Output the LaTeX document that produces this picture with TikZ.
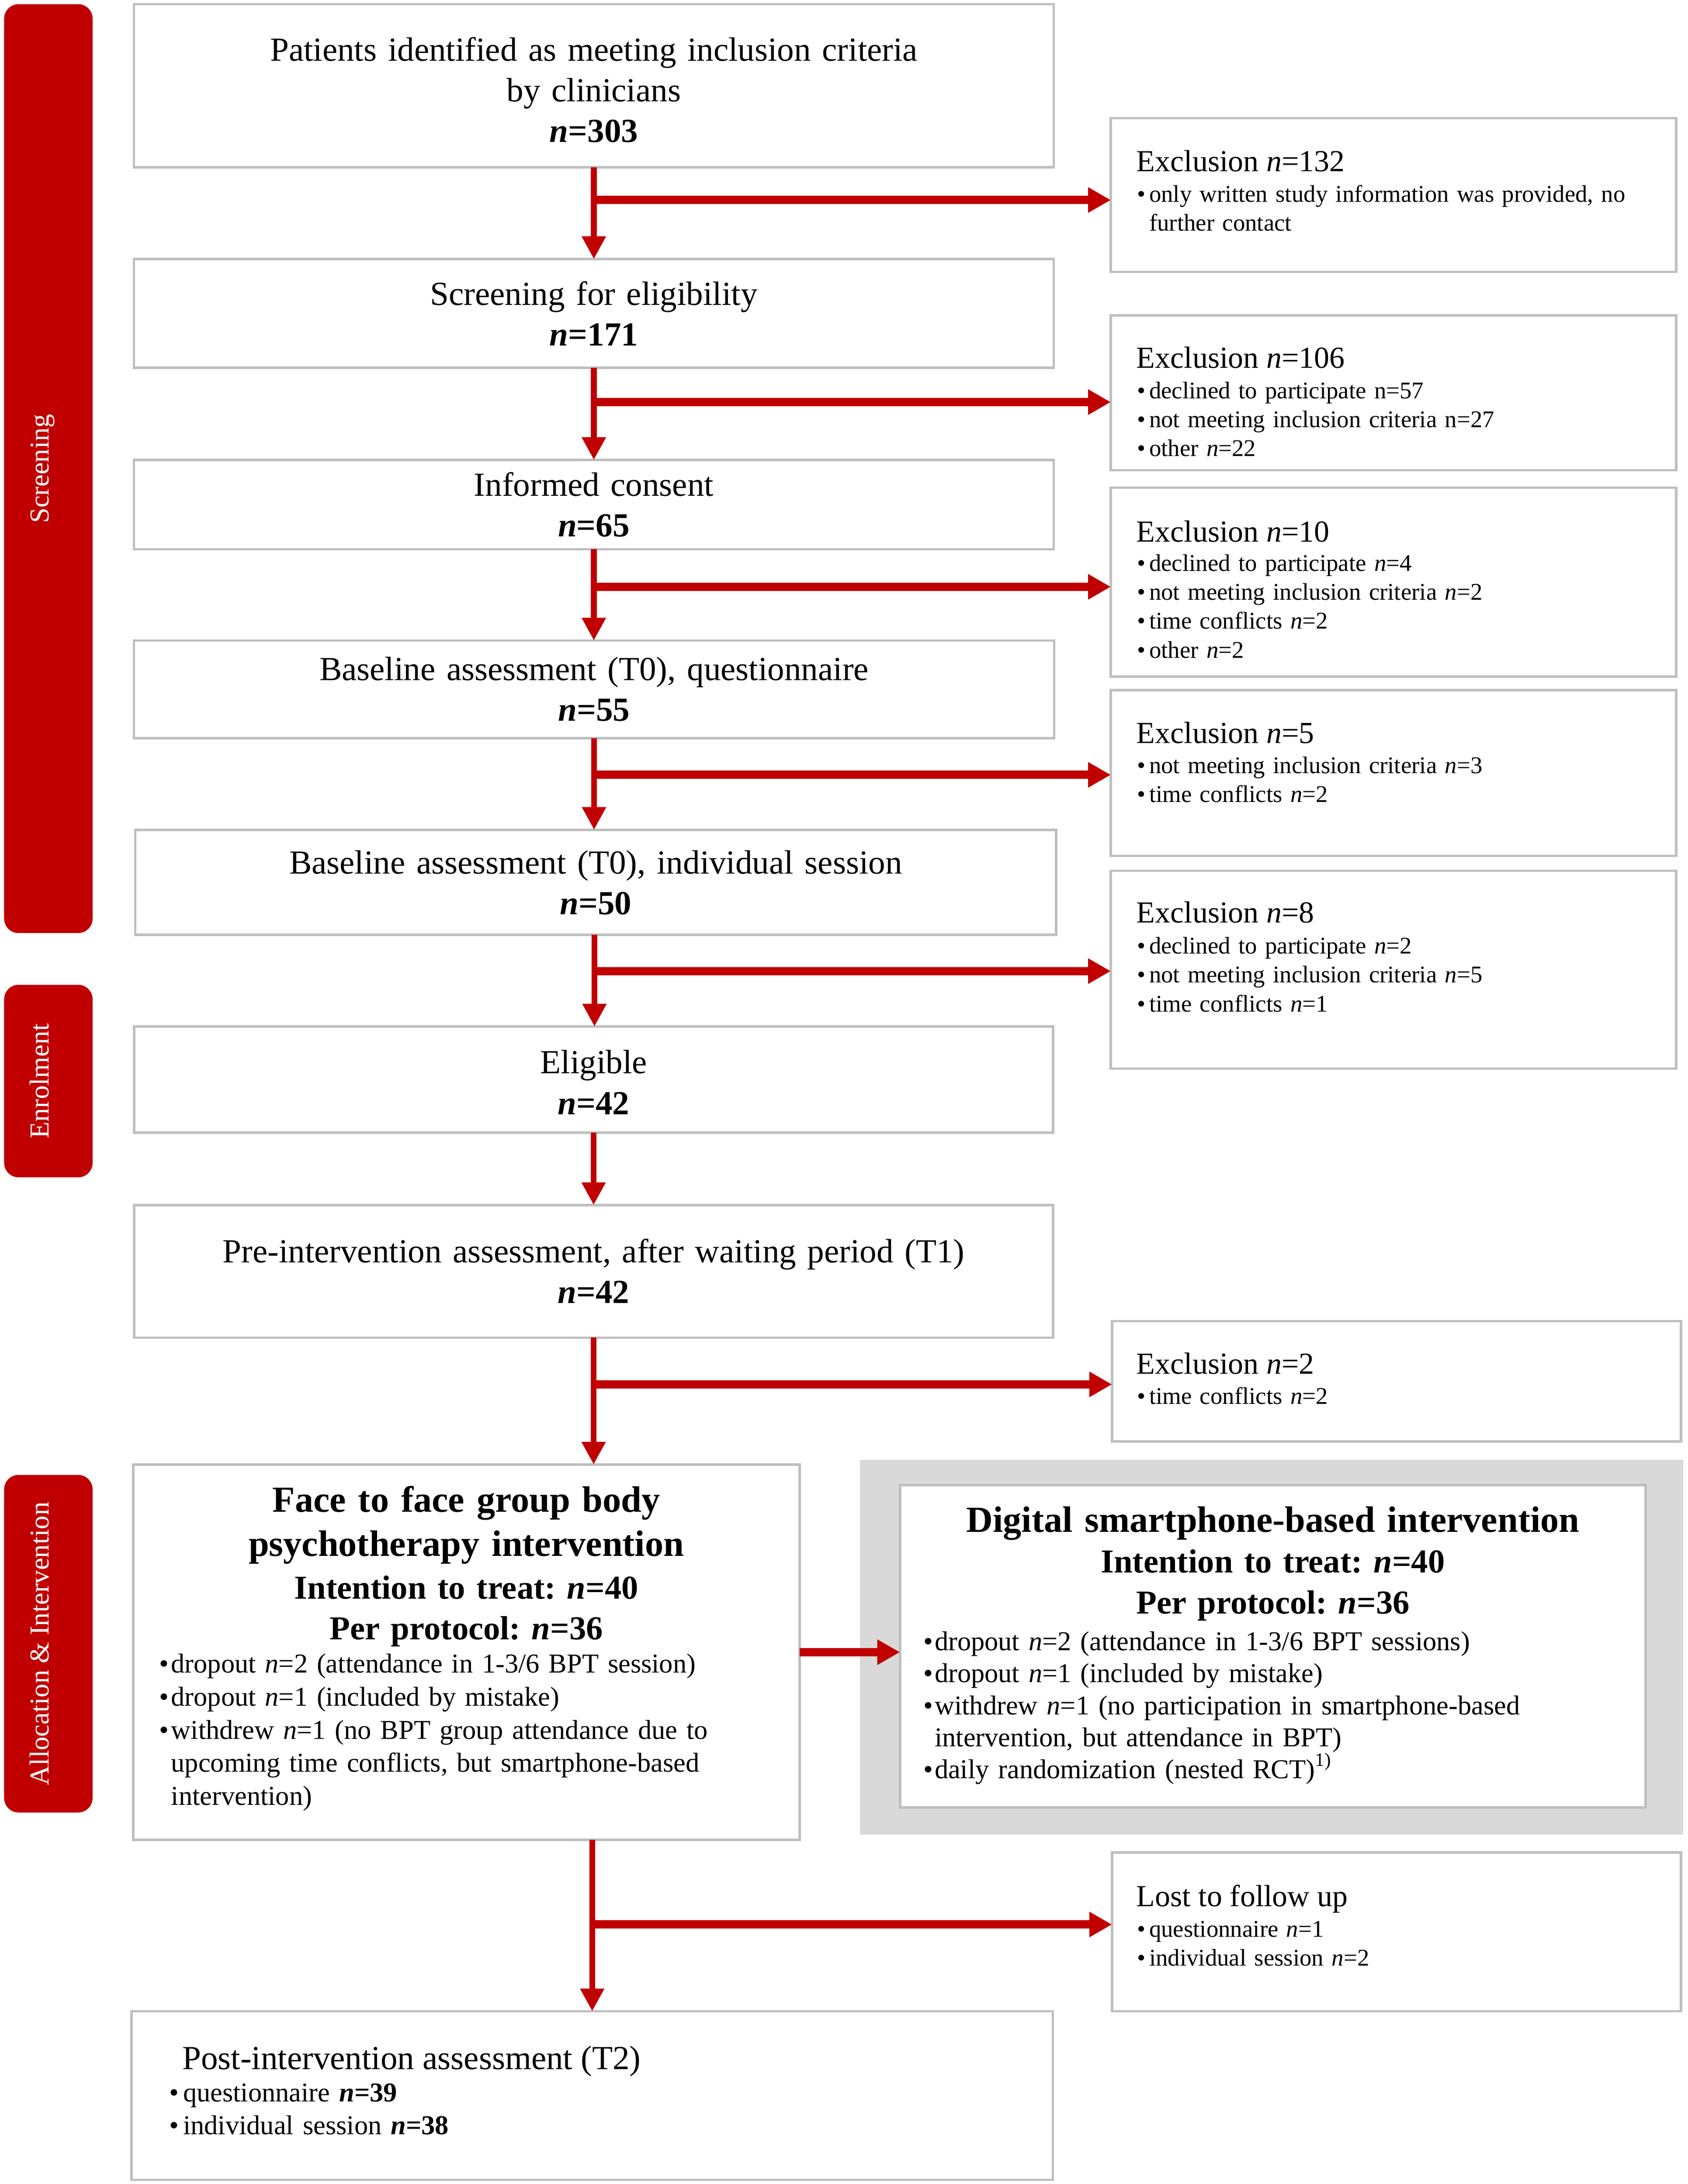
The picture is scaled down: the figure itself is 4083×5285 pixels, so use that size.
\documentclass[tikz,border=0pt]{standalone}
\usepackage{fontspec}
\setmainfont{Liberation Serif}
\usetikzlibrary{arrows.meta}
\definecolor{fcred}{HTML}{C00000}
\definecolor{boxgray}{HTML}{BFBFBF}
\definecolor{greyfill}{HTML}{D9D9D9}
\newlength{\bulind}
\setlength{\bulind}{2.9pt}
\newcommand{\bulfirst}{\noindent\makebox[\bulind][l]{\textbullet}}
\newcommand{\bul}{\par\bulfirst}
\newcommand{\cont}{\newline\hspace*{\bulind}}
\newcommand{\fsz}[2]{\fontsize{#1}{#2}\selectfont\frenchspacing}
\begin{document}
\frenchspacing
\begin{tikzpicture}[x=0.1pt,y=-0.1pt,
  box/.style={draw=boxgray, line width=0.6pt, fill=white, inner sep=0pt, outer sep=0pt, rectangle},
  side/.style={fill=fcred, rounded corners=3.5pt, inner sep=0pt, outer sep=0pt, minimum width=21.4pt},
  sidetext/.style={text=white, rotate=90, anchor=base, font=\fsz{6.6pt}{8pt}, inner sep=0pt},
  maintext/.style={anchor=base, align=center, inner sep=0pt, text width=222pt, font=\fsz{8.15pt}{9.85pt}},
  headtext/.style={anchor=base, align=center, inner sep=0pt, font=\bfseries\fsz{8.9pt}{10.6pt}},
  subtext/.style={anchor=base, align=center, inner sep=0pt, font=\bfseries\fsz{8.1pt}{9.8pt}},
  extitle/.style={anchor=base west, inner sep=0pt, font=\fsz{7.4pt}{8.8pt}},
  exbul/.style={anchor=base west, inner sep=0pt, align=left, text width=128pt, font=\fsz{5.8pt}{7.0pt}},
  ivbul/.style={anchor=base west, inner sep=0pt, align=left, font=\fsz{6.6pt}{8.0pt}},
  varrow/.style={draw=fcred, line width=1.4pt, -{Triangle[width=5.5pt,length=5.5pt]}},
  harrow/.style={draw=fcred, line width=2.0pt, -{Triangle[width=5.8pt,length=5.5pt]}}
]
\fill[white] (0,0) rectangle (4083,5285);
\useasboundingbox (0,0) rectangle (4083,5285);

% side bars
\node[side, minimum height=224.8pt] (S1) at (117,1134) {};
\node[sidetext] (S1t) at (118,1134) {Screening};
\node[side, minimum height=46.6pt] (S2) at (117,2616) {};
\node[sidetext] (S2t) at (118,2616) {Enrolment};
\node[side, minimum height=81.7pt] (S3) at (117,3977.5) {};
\node[sidetext] (S3t) at (118,3977.5) {Allocation \& Intervention};

% main column
\node[box, minimum width=222.5pt, minimum height=39.5pt] (A) at (1436.5,207.5) {};
\node[maintext] (At) at (1436.5,147) {Patients identified as meeting inclusion criteria\\by clinicians\\\textbf{\textit{n}=303}};
\node[box, minimum width=222.5pt, minimum height=26.3pt] (B) at (1436.5,758.5) {};
\node[maintext] (Bt) at (1436.5,738) {Screening for eligibility\\\textbf{\textit{n}=171}};
\node[box, minimum width=222.5pt, minimum height=21.6pt] (C) at (1436.5,1221) {};
\node[maintext] (Ct) at (1436.5,1200) {Informed consent\\\textbf{\textit{n}=65}};
\node[box, minimum width=222.6pt, minimum height=23.6pt] (D) at (1437,1668) {};
\node[maintext] (Dt) at (1437,1646) {Baseline assessment (T0), questionnaire\\\textbf{\textit{n}=55}};
\node[box, minimum width=222.8pt, minimum height=25.4pt] (E) at (1441,2135) {};
\node[maintext] (Et) at (1441,2114) {Baseline assessment (T0), individual session\\\textbf{\textit{n}=50}};
\node[box, minimum width=222.3pt, minimum height=25.7pt] (F) at (1436,2612.5) {};
\node[maintext] (Ft) at (1436,2598) {Eligible\\\textbf{\textit{n}=42}};
\node[box, minimum width=222.3pt, minimum height=32.1pt] (G) at (1436,3076.5) {};
\node[maintext] (Gt) at (1436,3055) {Pre-intervention assessment, after waiting period (T1)\\\textbf{\textit{n}=42}};

% face to face box
\node[box, minimum width=161.2pt, minimum height=90.8pt] (H) at (1128,3998) {};
\node[headtext, text width=160pt] (Ht1) at (1128,3659) {Face to face group body\\psychotherapy intervention};
\node[subtext, text width=160pt] (Ht2) at (1128,3869) {Intention to treat: \textit{n}=40\\Per protocol: \textit{n}=36};
\node[ivbul, text width=158pt] (Hb) at (383,4048) {\bulfirst dropout \textit{n}=2 (attendance in 1-3/6 BPT session)
\bul dropout \textit{n}=1 (included by mistake)
\bul withdrew \textit{n}=1 (no BPT group attendance due to\cont upcoming time conflicts, but smartphone-based\cont intervention)};

% digital box
\node[fill=greyfill, inner sep=0pt, minimum width=199.2pt, minimum height=90.7pt] (I) at (3076,3985.5) {};
\node[box, minimum width=180.4pt, minimum height=78.0pt] (W) at (3079,3984) {};
\node[headtext, text width=178pt] (Wt1) at (3079,3707) {Digital smartphone-based intervention};
\node[subtext, text width=178pt, font=\bfseries\fsz{8.1pt}{9.9pt}] (Wt2) at (3079,3806) {Intention to treat: \textit{n}=40\\Per protocol: \textit{n}=36};
\node[ivbul, text width=170pt, font=\fsz{6.6pt}{7.75pt}] (Wb) at (2232,3994) {\setlength{\bulind}{2.7pt}\bulfirst dropout \textit{n}=2 (attendance in 1-3/6 BPT sessions)
\bul dropout \textit{n}=1 (included by mistake)
\bul withdrew \textit{n}=1 (no participation in smartphone-based\cont intervention, but attendance in BPT)
\bul daily randomization (nested RCT)\textsuperscript{1)}};

% post box
\node[box, minimum width=222.9pt, minimum height=40.8pt] (J) at (1432.5,5071) {};
\node[anchor=base west, inner sep=0pt, font=\fsz{8.15pt}{9.8pt}] (Jt) at (439,5007) {Post-intervention assessment (T2)};
\node[ivbul, text width=150pt, font=\fsz{6.6pt}{7.9pt}] (Jb) at (408,5086) {\setlength{\bulind}{3.3pt}\bulfirst questionnaire \textbf{\textit{n}=39}
\bul individual session \textbf{\textit{n}=38}};

% right column
\node[box, minimum width=136.8pt, minimum height=37.2pt] (R1) at (3371,472) {};
\node[extitle] (R1t) at (2747,415) {Exclusion \textit{n}=132};
\node[exbul] (R1b) at (2749,489) {\bulfirst only written study information was provided, no\cont further contact};

\node[box, minimum width=136.8pt, minimum height=37.5pt] (R2) at (3371,950.5) {};
\node[extitle] (R2t) at (2747,891) {Exclusion \textit{n}=106};
\node[exbul] (R2b) at (2749,964) {\bulfirst declined to participate n=57
\bul not meeting inclusion criteria n=27
\bul other \textit{n}=22};

\node[box, minimum width=136.8pt, minimum height=45.7pt] (R3) at (3371,1408.5) {};
\node[extitle] (R3t) at (2747,1311) {Exclusion \textit{n}=10};
\node[exbul] (R3b) at (2749,1382) {\bulfirst declined to participate \textit{n}=4
\bul not meeting inclusion criteria \textit{n}=2
\bul time conflicts \textit{n}=2
\bul other \textit{n}=2};

\node[box, minimum width=136.8pt, minimum height=40.1pt] (R4) at (3371,1870.5) {};
\node[extitle] (R4t) at (2747,1798) {Exclusion \textit{n}=5};
\node[exbul] (R4b) at (2749,1871) {\bulfirst not meeting inclusion criteria \textit{n}=3
\bul time conflicts \textit{n}=2};

\node[box, minimum width=136.8pt, minimum height=47.9pt] (R5) at (3371,2346.5) {};
\node[extitle] (R5t) at (2747,2233) {Exclusion \textit{n}=8};
\node[exbul] (R5b) at (2749,2308) {\bulfirst declined to participate \textit{n}=2
\bul not meeting inclusion criteria \textit{n}=5
\bul time conflicts \textit{n}=1};

\node[box, minimum width=137.6pt, minimum height=29.1pt] (R6) at (3378,3342.5) {};
\node[extitle] (R6t) at (2747,3325) {Exclusion \textit{n}=2};
\node[exbul] (R6b) at (2749,3398) {\bulfirst time conflicts \textit{n}=2};

\node[box, minimum width=137.6pt, minimum height=38.4pt] (R7) at (3378,4675) {};
\node[extitle] (R7t) at (2747,4613) {Lost to follow up};
\node[exbul] (R7b) at (2749,4687) {\bulfirst questionnaire \textit{n}=1
\bul individual session \textit{n}=2};

% connectors
\coordinate (b1) at (1436.5,484);
\coordinate (b2) at (1436.5,973);
\coordinate (b3) at (1436.5,1420);
\coordinate (b4) at (1437,1875);
\coordinate (b5) at (1438,2350);
\coordinate (b6) at (1436,3350);
\coordinate (b7) at (1432.5,4657);

\draw[varrow] (A.south) -- (B.north);
\draw[harrow] (b1) -- (b1 -| R1.west);
\draw[varrow] (B.south) -- (C.north);
\draw[harrow] (b2) -- (b2 -| R2.west);
\draw[varrow] (C.south) -- (C.south |- D.north);
\draw[harrow] (b3) -- (b3 -| R3.west);
\draw[varrow] (D.south) -- (D.south |- E.north);
\draw[harrow] (b4) -- (b4 -| R4.west);
\draw[varrow] (E.south -| b5) -- (b5 |- F.north);
\draw[harrow] (b5) -- (b5 -| R5.west);
\draw[varrow] (F.south) -- (G.north);
\draw[varrow] (G.south) -- (G.south |- H.north);
\draw[harrow] (b6) -- (b6 -| R6.west);
\draw[varrow] (H.south -| J.north) -- (J.north);
\draw[harrow] (b7) -- (b7 -| R7.west);
\draw[harrow] (H.east) -- (H.east -| W.west);
\end{tikzpicture}
\end{document}
